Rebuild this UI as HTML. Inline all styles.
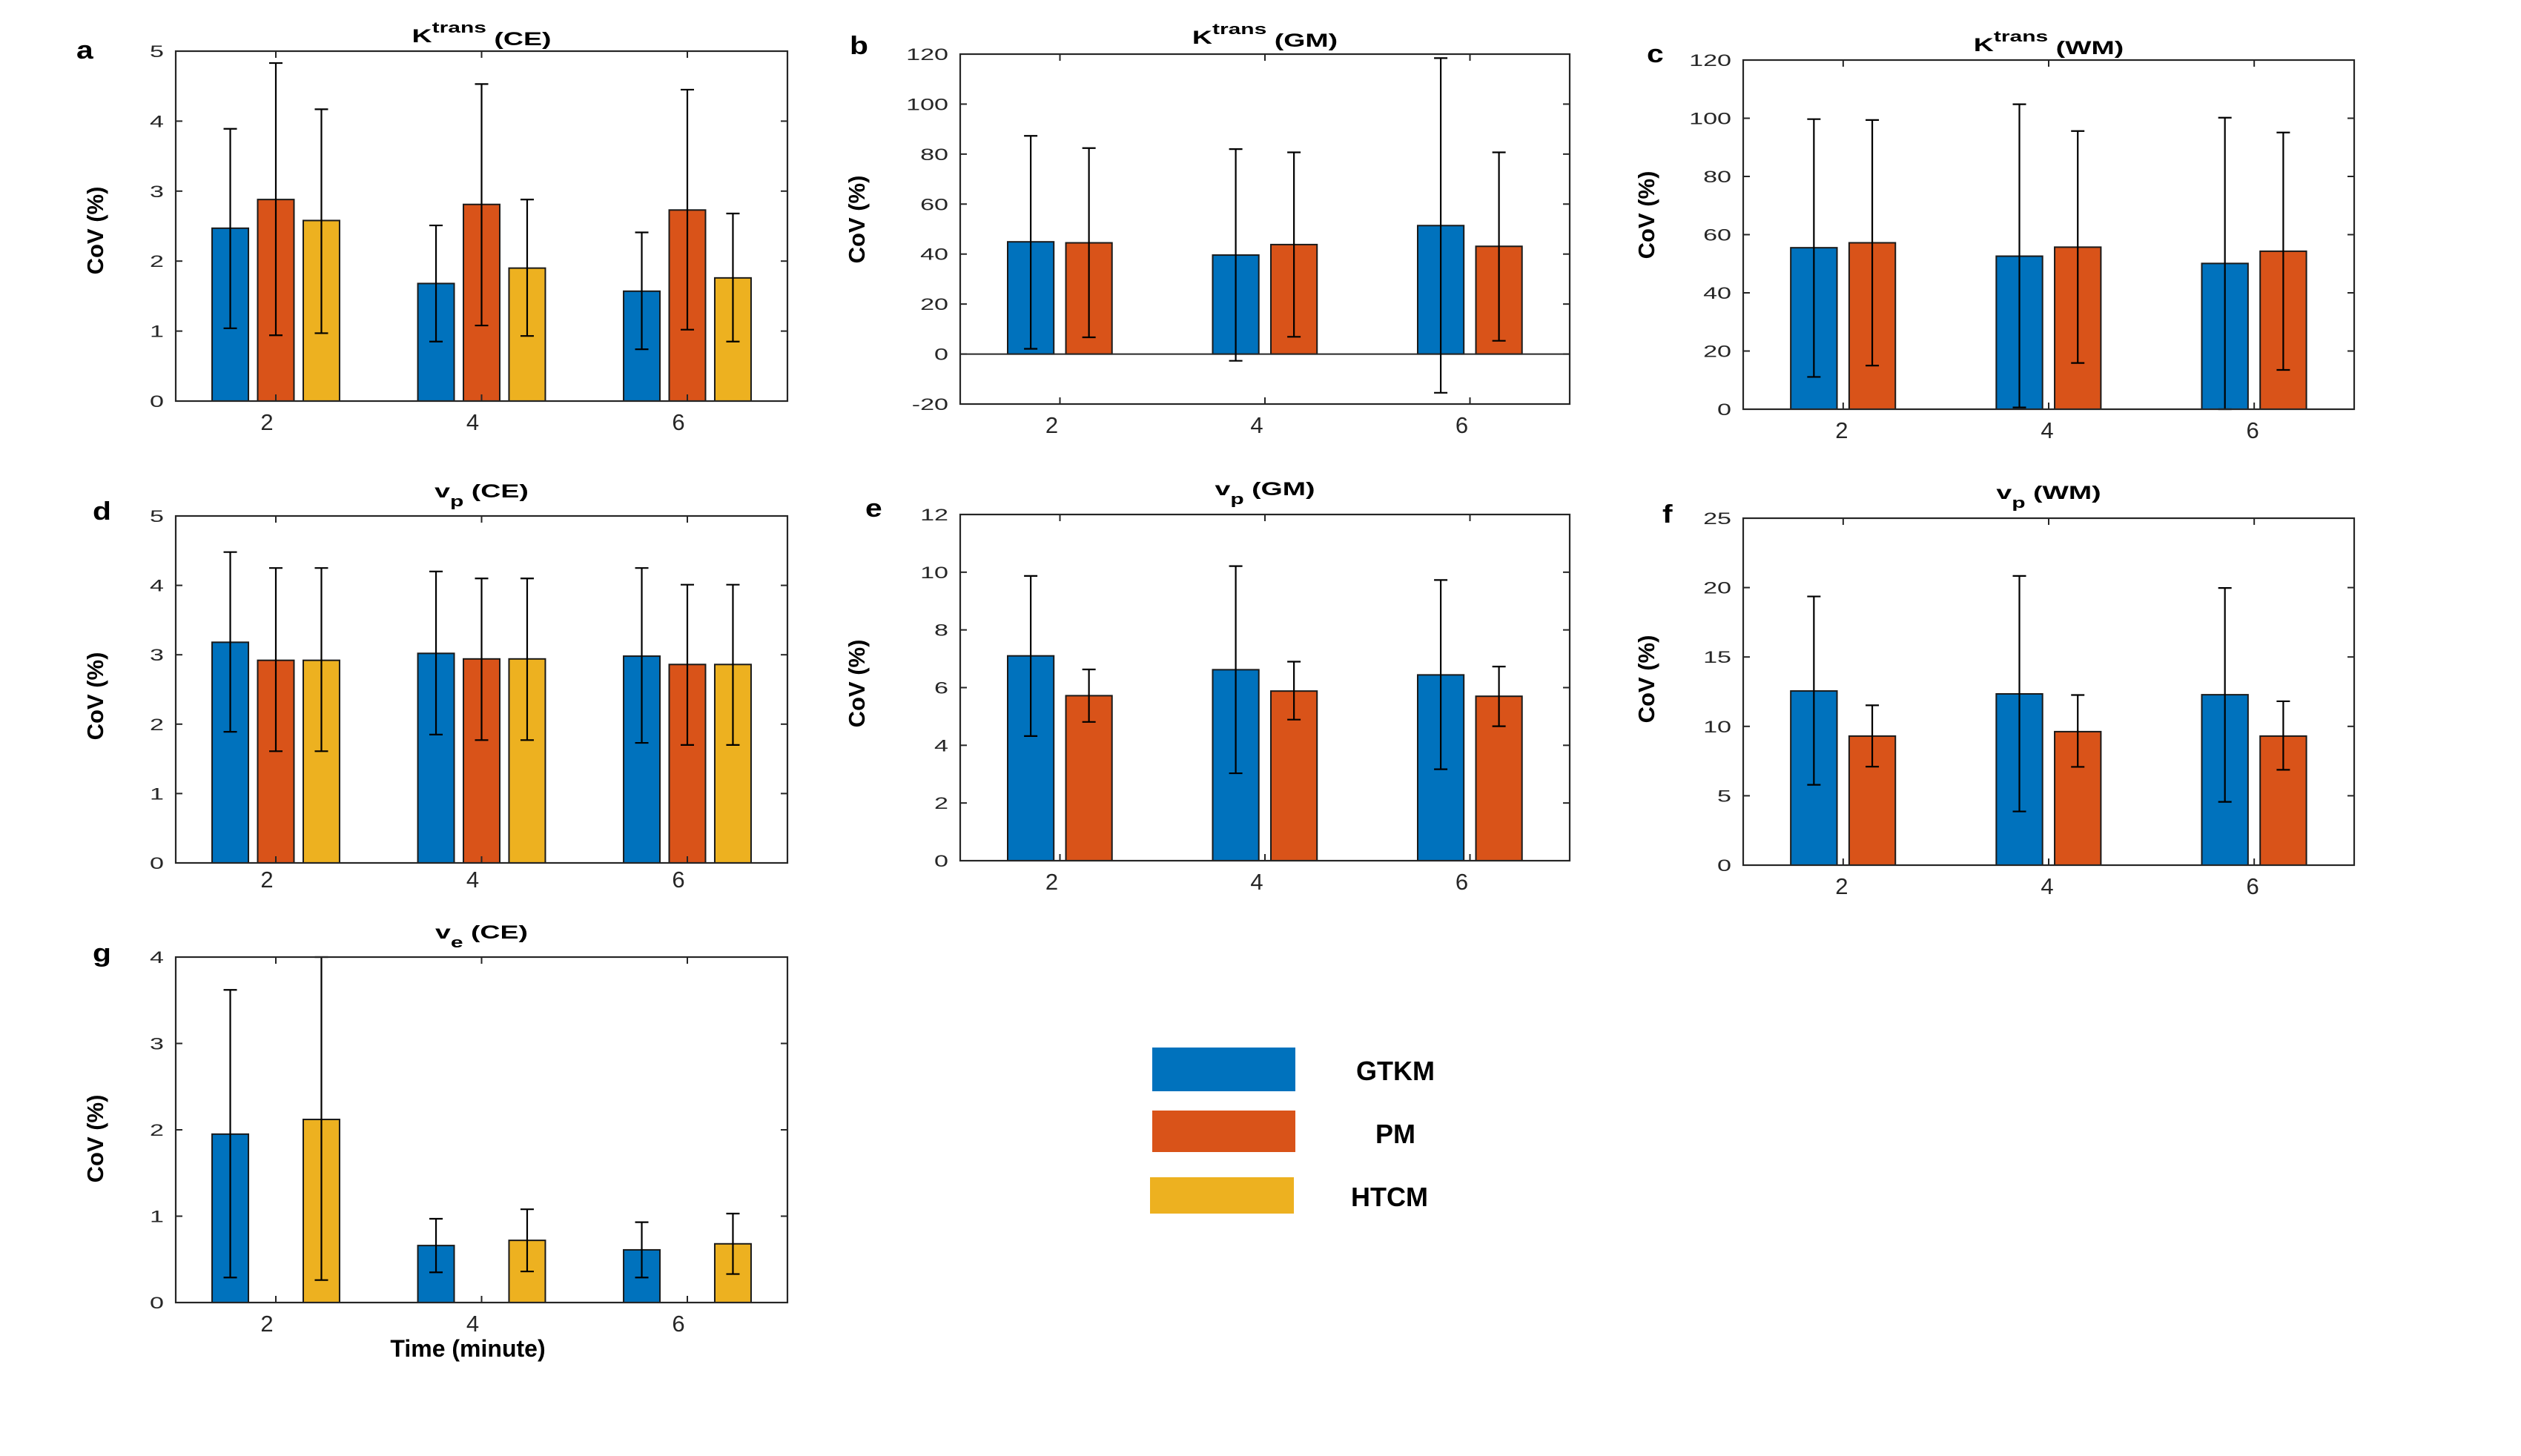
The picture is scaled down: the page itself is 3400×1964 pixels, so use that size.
<!DOCTYPE html>
<html><head><meta charset="utf-8"><title>CoV panels</title>
<style>html,body{margin:0;padding:0;background:#fff;}svg{display:block;}</style></head>
<body>
<svg id="fig" xmlns="http://www.w3.org/2000/svg" width="3400" height="1964" viewBox="0 0 3400 1964" font-family="Liberation Sans, Arial, sans-serif">
<rect width="3400" height="1964" fill="#fff"/>
<g id="legend">
  <g><rect x="1554" y="1413" width="193" height="59" fill="#0072BD"/><text x="1829" y="1457" font-size="36" font-weight="bold">GTKM</text></g>
  <g><rect x="1554" y="1498" width="193" height="56" fill="#D95319"/><text x="1855" y="1542" font-size="36" font-weight="bold">PM</text></g>
  <g><rect x="1551" y="1588" width="194" height="49" fill="#EDB120"/><text x="1822" y="1627" font-size="36" font-weight="bold">HTCM</text></g>
</g>
<text x="631" y="1830" font-size="32" font-weight="bold" text-anchor="middle">Time (minute)</text>
</svg>
<script>
const categories = [2, 4, 6];
// panel a: Ktrans (CE)
const aTicks = [0,1,2,3,4,5];
const aGTKM = [2.47,1.68,1.57], aGTKMlo = [1.04,0.85,0.74], aGTKMhi = [3.89,2.51,2.41];
const aPM = [2.88,2.81,2.73], aPMlo = [0.94,1.08,1.02], aPMhi = [4.83,4.53,4.45];
const aHTCM = [2.58,1.90,1.76], aHTCMlo = [0.97,0.93,0.85], aHTCMhi = [4.17,2.88,2.68];
// panel b: Ktrans (GM)
const bTicks = [-20,0,20,40,60,80,100,120];
const bGTKM = [44.9,39.6,51.4], bGTKMlo = [2.1,-2.7,-15.5], bGTKMhi = [87.3,82.0,118.4];
const bPM = [44.5,43.8,43.1], bPMlo = [6.7,6.9,5.3], bPMhi = [82.4,80.7,80.7];
// panel c: Ktrans (WM)
const cTicks = [0,20,40,60,80,100,120];
const cGTKM = [55.5,52.6,50.1], cGTKMlo = [11.1,0.6,0.0], cGTKMhi = [99.7,104.8,100.2];
const cPM = [57.2,55.7,54.3], cPMlo = [15.0,15.9,13.5], cPMhi = [99.4,95.6,95.1];
// panel d: vp (CE)
const dTicks = [0,1,2,3,4,5];
const dGTKM = [3.18,3.02,2.98], dGTKMlo = [1.89,1.85,1.73], dGTKMhi = [4.48,4.20,4.25];
const dPM = [2.92,2.94,2.86], dPMlo = [1.61,1.77,1.70], dPMhi = [4.25,4.10,4.01];
const dHTCM = [2.92,2.94,2.86], dHTCMlo = [1.61,1.77,1.70], dHTCMhi = [4.25,4.10,4.01];
// panel e: vp (GM)
const eTicks = [0,2,4,6,8,10,12];
const eGTKM = [7.10,6.62,6.44], eGTKMlo = [4.32,3.03,3.17], eGTKMhi = [9.87,10.21,9.73];
const ePM = [5.72,5.88,5.70], ePMlo = [4.81,4.89,4.66], ePMhi = [6.63,6.90,6.73];
// panel f: vp (WM)
const fTicks = [0,5,10,15,20,25];
const fGTKM = [12.55,12.34,12.28], fGTKMlo = [5.79,3.87,4.56], fGTKMhi = [19.36,20.84,19.97];
const fPM = [9.30,9.62,9.30], fPMlo = [7.10,7.08,6.87], fPMhi = [11.52,12.26,11.81];
// panel g: ve (CE)
const gTicks = [0,1,2,3,4];
const gGTKM = [1.95,0.66,0.61], gGTKMlo = [0.29,0.35,0.29], gGTKMhi = [3.62,0.97,0.93];
const gHTCM = [2.12,0.72,0.68], gHTCMlo = [0.26,0.36,0.33], gHTCMhi = [4.00,1.08,1.03];

const COL = {GTKM:'#0072BD', PM:'#D95319', HTCM:'#EDB120'};
const NS = 'http://www.w3.org/2000/svg';
const svg = document.getElementById('fig');
function mk(tag, attrs, parent){const e=document.createElementNS(NS,tag);for(const k in attrs)e.setAttribute(k,attrs[k]);(parent||svg).appendChild(e);return e;}

const panels = [
 {id:'a', L:237,R:1062,T:69,B:541, ymin:0,ymax:5, ticks:aTicks, title:['K','trans','(CE)','sup'], tb:57, letter:[103,79], yl:[128,311], xo:-12,
  series:[['GTKM',aGTKM,aGTKMlo,aGTKMhi,0],['PM',aPM,aPMlo,aPMhi,1],['HTCM',aHTCM,aHTCMlo,aHTCMhi,2]], n:3},
 {id:'b', L:1295,R:2117,T:73,B:545, ymin:-20,ymax:120, ticks:bTicks, title:['K','trans','(GM)','sup'], tb:59, letter:[1146,73], yl:[1155,296], xo:-11, zero:true,
  series:[['GTKM',bGTKM,bGTKMlo,bGTKMhi,0],['PM',bPM,bPMlo,bPMhi,1]], n:2},
 {id:'c', L:2351,R:3175,T:81,B:552, ymin:0,ymax:120, ticks:cTicks, title:['K','trans','(WM)','sup'], tb:69, letter:[2221,84], yl:[2220,290], xo:-2,
  series:[['GTKM',cGTKM,cGTKMlo,cGTKMhi,0],['PM',cPM,cPMlo,cPMhi,1]], n:2},
 {id:'d', L:237,R:1062,T:696,B:1164, ymin:0,ymax:5, ticks:dTicks, title:['v','p','(CE)','sub'], tb:671, letter:[125,701], yl:[128,939], xo:-12,
  series:[['GTKM',dGTKM,dGTKMlo,dGTKMhi,0],['PM',dPM,dPMlo,dPMhi,1],['HTCM',dHTCM,dHTCMlo,dHTCMhi,2]], n:3},
 {id:'e', L:1295,R:2117,T:694,B:1161, ymin:0,ymax:12, ticks:eTicks, title:['v','p','(GM)','sub'], tb:668, letter:[1167,697], yl:[1155,922], xo:-11,
  series:[['GTKM',eGTKM,eGTKMlo,eGTKMhi,0],['PM',ePM,ePMlo,ePMhi,1]], n:2},
 {id:'f', L:2351,R:3175,T:699,B:1167, ymin:0,ymax:25, ticks:fTicks, title:['v','p','(WM)','sub'], tb:673, letter:[2242,705], yl:[2220,916], xo:-2,
  series:[['GTKM',fGTKM,fGTKMlo,fGTKMhi,0],['PM',fPM,fPMlo,fPMhi,1]], n:2},
 {id:'g', L:237,R:1062,T:1291,B:1757, ymin:0,ymax:4, ticks:gTicks, title:['v','e','(CE)','sub'], tb:1266, letter:[125,1297], yl:[128,1536], xo:-12,
  series:[['GTKM',gGTKM,gGTKMlo,gGTKMhi,0],['HTCM',gHTCM,gHTCMlo,gHTCMhi,2]], n:3}
];
const XMIN = 1.027, XMAX = 6.973;
const OFF3 = [-0.443, 0, 0.443], W3 = 0.353;
const OFF2 = [-0.285, 0.283], W2 = 0.45;

panels.forEach(p => {
  const g = mk('g', {});
  
  
  const xs = v => p.L + (v - XMIN) / (XMAX - XMIN) * (p.R - p.L);
  const ys = v => p.B - (v - p.ymin) / (p.ymax - p.ymin) * (p.B - p.T);
  const bw = (p.n === 3 ? W3 : W2) / (XMAX - XMIN) * (p.R - p.L);
  const offs = p.n === 3 ? OFF3 : OFF2;
  p.series.forEach(s => {
    const [name, vals, lo, hi, slot] = s;
    vals.forEach((v, i) => {
      const cx = xs(categories[i] + offs[slot]);
      const y0 = ys(Math.max(0, p.ymin)), y1 = ys(v);
      const r = mk('rect', {x:cx - bw/2, y:Math.min(y0,y1), width:bw, height:Math.abs(y0-y1), fill:COL[name], stroke:'#1a1a1a', 'stroke-width':2}, g);
      
      
    });
  });
  if (p.zero) {
    const zl = mk('line', {x1:p.L, x2:p.R, y1:ys(0), y2:ys(0), stroke:'#262626', 'stroke-width':2}, g);
    
    
  }
  p.series.forEach(s => {
    const [name, vals, lo, hi, slot] = s;
    vals.forEach((v, i) => {
      const cx = xs(categories[i] + offs[slot]);
      const eb = mk('g', {stroke:'#000', 'stroke-width':2.2}, g);
      
      
      mk('line', {x1:cx, x2:cx, y1:ys(lo[i]), y2:ys(hi[i])}, eb);
      mk('line', {x1:cx-9, x2:cx+9, y1:ys(lo[i]), y2:ys(lo[i])}, eb);
      mk('line', {x1:cx-9, x2:cx+9, y1:ys(hi[i]), y2:ys(hi[i])}, eb);
    });
  });
  const box = mk('rect', {x:p.L, y:p.T, width:p.R-p.L, height:p.B-p.T, fill:'none', stroke:'#262626', 'stroke-width':2.2}, g);
  
  
  p.ticks.forEach(t => {
    const y = ys(t);
    mk('line', {x1:p.L, x2:p.L+9, y1:y, y2:y, stroke:'#262626', 'stroke-width':2}, g);
    mk('line', {x1:p.R, x2:p.R-9, y1:y, y2:y, stroke:'#262626', 'stroke-width':2}, g);
    const tx = mk('text', {transform:`translate(${p.L-16},${y+8}) scale(1.55,1)`, 'font-size':22, fill:'#262626', 'text-anchor':'end'}, g);
    tx.textContent = String(t);
    
    
  });
  categories.forEach(c => {
    const x = xs(c);
    mk('line', {x1:x, x2:x, y1:p.B, y2:p.B-9, stroke:'#262626', 'stroke-width':2}, g);
    mk('line', {x1:x, x2:x, y1:p.T, y2:p.T+9, stroke:'#262626', 'stroke-width':2}, g);
    const tx = mk('text', {x:x + p.xo, y:p.B + (p.id==='d'?33:39), 'font-size':31, fill:'#262626', 'text-anchor':'middle'}, g);
    tx.textContent = String(c);
    
    
  });
  const cx = (p.L + p.R) / 2;
  const tt = mk('text', {transform:`translate(${cx},${p.tb}) scale(1.5,1)`, 'font-size':25, 'font-weight':'bold', 'text-anchor':'middle'}, g);
  
  
  const [main, scr, paren, kind] = p.title;
  const t1 = mk('tspan', {}, tt); t1.textContent = main;
  const t2 = mk('tspan', {'font-size':20, dy: kind==='sup' ? -13 : 12}, tt); t2.textContent = scr;
  const t3 = mk('tspan', {dy: kind==='sup' ? 17 : -12}, tt); t3.textContent = ' ' + paren;
  const lt = mk('text', {transform:`translate(${p.letter[0]},${p.letter[1]}) scale(1.2,1)`, 'font-size':34, 'font-weight':'bold'}, g);
  lt.textContent = p.id;
  
  
  const yl = mk('text', {transform:`translate(${p.yl[0]+11},${p.yl[1]}) rotate(-90)`, 'font-size':31, 'font-weight':'bold', 'text-anchor':'middle'}, g);
  yl.textContent = 'CoV (%)';
  
  
});
</script>
</body></html>
